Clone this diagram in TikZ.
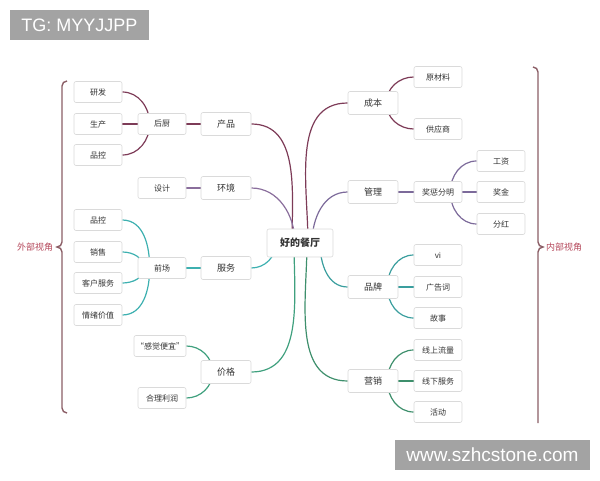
\documentclass[tikz,border=0pt]{standalone}
\usepackage{fontspec}
\usepackage{tikz}
\usetikzlibrary{calc,backgrounds}
\newfontfamily\cjk{Noto Sans CJK SC}
\newfontfamily\wmfont{Liberation Sans}
\definecolor{boxgray}{HTML}{DADADA}
\definecolor{txtgray}{HTML}{333333}
\definecolor{wmgray}{HTML}{A3A3A3}
\definecolor{maroon}{HTML}{7D3B57}
\definecolor{mauve}{HTML}{8A6E9C}
\definecolor{teal}{HTML}{3DB0B0}
\definecolor{sea}{HTML}{3FA07E}
\definecolor{plum}{HTML}{7C6A9A}
\definecolor{cyan2}{HTML}{3A9E9E}
\definecolor{moss}{HTML}{3E8F6C}
\definecolor{bracecol}{HTML}{8B5E66}
\definecolor{labelred}{HTML}{B4475A}

\begin{document}
\begin{tikzpicture}[x=1pt,y=1pt,
  topic/.style={draw=boxgray, fill=white, rounded corners=2pt, line width=0.6pt,
    minimum width=50pt, minimum height=23pt, inner sep=2pt, text=txtgray,
    font=\cjk\fontsize{9}{10}\selectfont},
  sub/.style={topic, minimum width=48pt, minimum height=21pt, font=\cjk\fontsize{8}{9}\selectfont},
  edge/.style={line width=1.2pt},
  brace/.style={draw=bracecol, line width=1.4pt},
  side/.style={text=labelred, font=\cjk\fontsize{9}{10}\selectfont}]
  \useasboundingbox (0,0) rectangle (600,480);

  % Watermarks
  \fill[wmgray] (10,440) rectangle (149,470);
  \node[text=white, font=\wmfont\fontsize{18}{20}\selectfont] (tg) at (79.5,455) {TG: MYYJJPP};
  \fill[wmgray] (395,10) rectangle (590,40);
  \node[text=white, font=\wmfont\fontsize{19}{21}\selectfont] (web) at (492.5,25) {www.szhcstone.com};

  % Center
  \node[topic, minimum width=66pt, minimum height=28pt, font=\cjk\bfseries\fontsize{10}{12}\selectfont] (root) at (300,237) {好的餐厅};

  % Left side
  \node[topic] (cp) at (226,356) {产品};
  \node[sub] (hc) at (162,356) {后厨};
  \node[sub] (yf) at (98,388) {研发};
  \node[sub] (sc) at (98,356) {生产};
  \node[sub] (pka) at (98,325) {品控};
  \node[topic] (hj) at (226,292) {环境};
  \node[sub] (sj) at (162,292) {设计};
  \node[topic] (fw) at (226,212) {服务};
  \node[sub] (qc) at (162,212) {前场};
  \node[sub] (pkb) at (98,260) {品控};
  \node[sub] (xs) at (98,228) {销售};
  \node[sub] (kf) at (98,197) {客户服务};
  \node[sub] (qx) at (98,165) {情绪价值};
  \node[topic] (jg) at (226,108) {价格};
  \node[sub, minimum width=52pt] (gj) at (160,134) {“感觉便宜”};
  \node[sub] (hl) at (162,82) {合理利润};

  % Right side
  \node[topic] (cb) at (373,377) {成本};
  \node[sub] (ycl) at (438,403) {原材料};
  \node[sub] (gys) at (438,351) {供应商};
  \node[topic] (gl) at (373,288) {管理};
  \node[sub] (jc) at (438,288) {奖惩分明};
  \node[sub] (gz) at (501,319) {工资};
  \node[sub] (jj) at (501,288) {奖金};
  \node[sub] (fh) at (501,256) {分红};
  \node[topic] (pp) at (373,193) {品牌};
  \node[sub] (vi) at (438,225) {vi};
  \node[sub] (ggc) at (438,193) {广告词};
  \node[sub] (gs) at (438,162) {故事};
  \node[topic] (yx) at (373,99) {营销};
  \node[sub] (xsl) at (438,130) {线上流量};
  \node[sub] (xxf) at (438,99) {线下服务};
  \node[sub] (hd) at (438,68) {活动};

  \begin{pgfonlayer}{background}
    % Left branches
    \draw[edge, maroon] (cp.east) to[out=0,in=90] ($(root.center)+(-8,0)$);
    \draw[edge, maroon] (hc.east) -- (cp.west);
    \draw[edge, maroon] (yf.east) to[out=0,in=90] ($(hc.west)+(12,0)$);
    \draw[edge, maroon] (sc.east) -- (hc.west);
    \draw[edge, maroon] (pka.east) to[out=0,in=-90] ($(hc.west)+(12,0)$);
    \draw[edge, mauve] (hj.east) to[out=0,in=90] ($(root.center)+(-5,0)$);
    \draw[edge, mauve] (sj.east) -- (hj.west);
    \draw[edge, teal] (fw.east) to[out=0,in=-90] ($(root.center)+(-24,0)$);
    \draw[edge, teal] (qc.east) -- (fw.west);
    \draw[edge, teal] (pkb.east) to[out=0,in=90] ($(qc.west)+(12,0)$);
    \draw[edge, teal] (xs.east) to[out=0,in=90] ($(qc.west)+(6,0)$);
    \draw[edge, teal] (kf.east) to[out=0,in=-90] ($(qc.west)+(6,0)$);
    \draw[edge, teal] (qx.east) to[out=0,in=-90] ($(qc.west)+(12,0)$);
    \draw[edge, sea] (jg.east) to[out=0,in=-90] ($(root.center)+(-6,0)$);
    \draw[edge, sea] (gj.east) to[out=0,in=90] ($(jg.west)+(12,0)$);
    \draw[edge, sea] (hl.east) to[out=0,in=-90] ($(jg.west)+(12,0)$);

    % Right branches
    \draw[edge, maroon] (cb.west) to[out=180,in=90] ($(root.center)+(8,0)$);
    \draw[edge, maroon] ($(cb.east)+(-12,0)$) to[out=90,in=180] (ycl.west);
    \draw[edge, maroon] ($(cb.east)+(-12,0)$) to[out=-90,in=180] (gys.west);
    \draw[edge, plum] (gl.west) to[out=180,in=90] ($(root.center)+(12,0)$);
    \draw[edge, plum] (gl.east) -- (jc.west);
    \draw[edge, plum] ($(jc.east)+(-12,0)$) to[out=90,in=180] (gz.west);
    \draw[edge, plum] (jc.east) -- (jj.west);
    \draw[edge, plum] ($(jc.east)+(-12,0)$) to[out=-90,in=180] (fh.west);
    \draw[edge, cyan2] (pp.west) to[out=180,in=-90] ($(root.center)+(20,0)$);
    \draw[edge, cyan2] ($(pp.east)+(-11,0)$) to[out=90,in=180] (vi.west);
    \draw[edge, cyan2] (pp.east) -- (ggc.west);
    \draw[edge, cyan2] ($(pp.east)+(-11,0)$) to[out=-90,in=180] (gs.west);
    \draw[edge, moss] (yx.west) to[out=180,in=-90] ($(root.center)+(7,0)$);
    \draw[edge, moss] ($(yx.east)+(-11,0)$) to[out=90,in=180] (xsl.west);
    \draw[edge, moss] (yx.east) -- (xxf.west);
    \draw[edge, moss] ($(yx.east)+(-11,0)$) to[out=-90,in=180] (hd.west);
  \end{pgfonlayer}

  % Braces
  \draw[brace] (67,399) to[out=180,in=90] (62,394) -- (62,238) to[out=-90,in=0] (57,233)
    to[out=0,in=90] (62,228) -- (62,72) to[out=-90,in=180] (67,67);
  \node[side] (outer) at (35,233) {外部视角};
  \draw[brace] (533,413) to[out=0,in=90] (538,408) -- (538,238) to[out=-90,in=180] (543,233)
    to[out=180,in=90] (538,228) -- (538,57);
  \node[side] (inner) at (564,233) {内部视角};
\end{tikzpicture}
\end{document}
